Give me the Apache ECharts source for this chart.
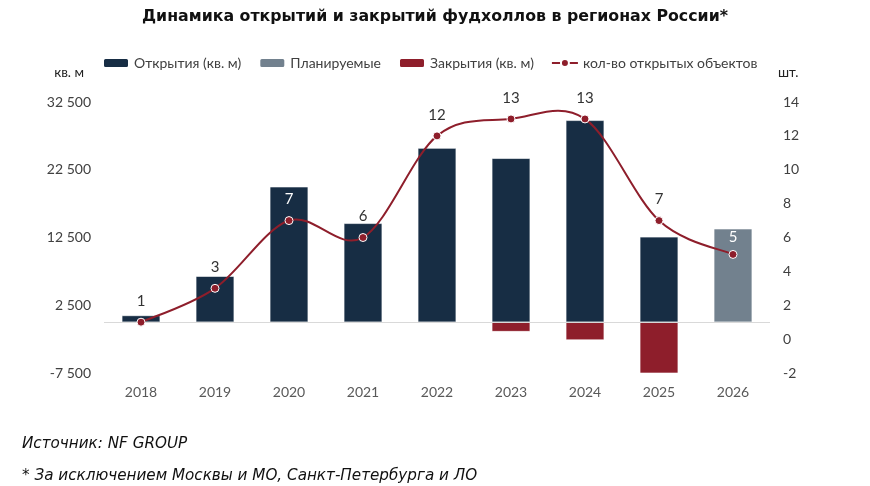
<!DOCTYPE html>
<html><head><meta charset="utf-8">
<script src="https://cdn.jsdelivr.net/npm/echarts@6/dist/echarts.min.js"></script>
<style>html,body{margin:0;padding:0;background:#fff}#c{width:870px;height:486px}</style>
</head><body><div id="c"></div>
<script>
var categories = ['2018','2019','2020','2021','2022','2023','2024','2025','2026'];
var openings = [1000, 6800, 20000, 14600, 25700, 24200, 29800, 12600, null];
var planned = [null, null, null, null, null, null, null, null, 13800];
var closures = [null, null, null, null, null, -1400, -2650, -7600, null];
var counts = [1, 3, 7, 6, 12, 13, 13, 7, 5];
var leftTicks = [-7500, 2500, 12500, 22500, 32500];

var FONT = 'Lato, "Open Sans", "Noto Sans", sans-serif';
var WIDE = '"DejaVu Sans", Lato, sans-serif';
var RED = '#8E1E2B';

function splinePath(api) {
  var pts = counts.map(function (v, i) { return api.coord([i, v]); });
  var n = pts.length;
  var d = 'M' + pts[0][0] + ' ' + pts[0][1];
  for (var i = 0; i < n - 1; i++) {
    var p0 = pts[Math.max(i - 1, 0)], p1 = pts[i], p2 = pts[i + 1], p3 = pts[Math.min(i + 2, n - 1)];
    var c1x = p1[0] + (p2[0] - p0[0]) / 6, c1y = p1[1] + (p2[1] - p0[1]) / 6;
    var c2x = p2[0] - (p3[0] - p1[0]) / 6, c2y = p2[1] - (p3[1] - p1[1]) / 6;
    d += ' C' + c1x + ' ' + c1y + ' ' + c2x + ' ' + c2y + ' ' + p2[0] + ' ' + p2[1];
  }
  return d;
}

var chart = echarts.init(document.getElementById('c'));
chart.setOption({
  animation: false,
  textStyle: {fontFamily: FONT},
  title: {text: 'Динамика открытий и закрытий фудхоллов в регионах России*', left: 'center', top: 4,
    textStyle: {fontSize: 15.8, fontWeight: 'bold', color: '#111', fontFamily: WIDE}},
  legend: {top: 51, left: 97, itemWidth: 26, itemHeight: 10, itemGap: 17,
    textStyle: {fontSize: 14, color: '#404040', fontFamily: FONT},
    data: ['Открытия (кв. м)', 'Планируемые', 'Закрытия (кв. м)',
      {name: 'кол-во открытых объектов', lineStyle: {opacity: 1, color: RED, width: 2}}]},
  grid: {left: 104, right: 100, top: 102, bottom: 113, containLabel: false},
  xAxis: {type: 'category', data: categories, axisLine: {show: false, onZero: false}, axisTick: {show: false},
    axisLabel: {fontSize: 14, color: '#595959', margin: 12, fontFamily: FONT}},
  yAxis: [
    {type: 'value', min: -7500, max: 32500, interval: 10000, name: 'кв. м', nameLocation: 'end', nameGap: 22,
     nameTextStyle: {fontSize: 13.5, color: '#222', align: 'right', padding: [0, 20, 0, 0]},
     splitLine: {show: false}, axisLine: {show: false}, axisTick: {show: false},
     axisLabel: {fontSize: 14, color: '#404040', margin: 13, customValues: leftTicks,
       formatter: function (v) { return String(v).replace(/\B(?=(\d{3})+(?!\d))/g, ' '); }}},
    {type: 'value', min: -2, max: 14, interval: 2, name: 'шт.', nameLocation: 'end', nameGap: 22,
     nameTextStyle: {fontSize: 13.5, color: '#222', align: 'left', padding: [0, 0, 0, 8]},
     splitLine: {show: false}, axisLine: {show: false}, axisTick: {show: false},
     axisLabel: {fontSize: 14, color: '#404040', margin: 13}}
  ],
  series: [
    {name: 'Открытия (кв. м)', type: 'bar', stack: 's', barWidth: '52%', data: openings,
     itemStyle: {color: '#172D44', borderColor: '#fff', borderWidth: 0.6},
     markLine: {silent: true, symbol: ['none', 'none'], label: {show: false},
       lineStyle: {color: '#d9d9d9', width: 1, type: 'solid'}, data: [{yAxis: 0}]}},
    {name: 'Планируемые', type: 'bar', stack: 's', barWidth: '52%', data: planned,
     itemStyle: {color: '#72818E', borderColor: '#fff', borderWidth: 0.6}},
    {name: 'Закрытия (кв. м)', type: 'bar', stack: 's', barWidth: '52%', data: closures,
     itemStyle: {color: RED, borderColor: '#fff', borderWidth: 0.6}},
    {type: 'custom', yAxisIndex: 1, z: 4, silent: true, data: counts.map(function (v, i) { return [i, v]; }),
     renderItem: function (params, api) {
       if (params.dataIndex !== 0) return null;
       return {type: 'path', shape: {pathData: splinePath(api)},
         style: {stroke: RED, lineWidth: 2, fill: null}};
     }},
    {name: 'кол-во открытых объектов', type: 'line', yAxisIndex: 1, data: counts.map(function (v, i) {
        if (i === 2) return {value: v, label: {color: '#fff'}};
        if (i === counts.length - 1) return {value: v, label: {color: '#fff', distance: 5}};
        return v; }),
     symbol: 'circle', symbolSize: 8, z: 5,
     lineStyle: {color: RED, width: 2, opacity: 0},
     itemStyle: {color: RED, borderColor: '#fff', borderWidth: 1},
     label: {show: true, position: 'top', distance: 9, fontSize: 15, color: '#333', fontFamily: FONT}}
  ],
  graphic: [
    {type: 'text', left: 22, top: 437, style: {text: 'Источник: NF GROUP', fontSize: 15.2, fontStyle: 'italic', fill: '#111', fontFamily: WIDE}},
    {type: 'text', left: 22, top: 469, style: {text: '* За исключением Москвы и МО, Санкт-Петербурга и ЛО', fontSize: 15.2, fontStyle: 'italic', fill: '#111', fontFamily: WIDE}}
  ]
});
</script></body></html>
